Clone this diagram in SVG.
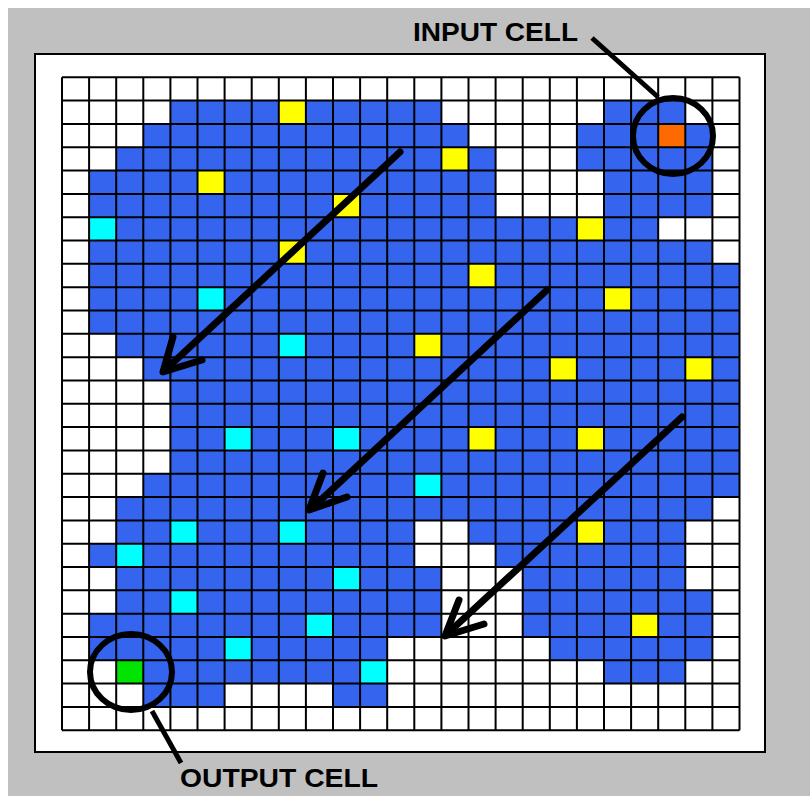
<svg xmlns="http://www.w3.org/2000/svg" width="810" height="796" viewBox="0 0 810 796">
  <defs>
    <style>
      .b { fill: #3565EE; }
      .y { fill: #FFFF00; }
      .c { fill: #00FFFF; }
      .o { fill: #FF6A00; }
      .g { fill: #00E400; }
      .grid { fill: none; stroke: #000; stroke-width: 2; vector-effect: non-scaling-stroke; }
      .arrow { fill: none; stroke: #000; stroke-width: 7; stroke-linecap: round; stroke-linejoin: round; }
      .ring { fill: none; stroke: #000; stroke-width: 6; }
      .lead { fill: none; stroke: #000; stroke-width: 5; stroke-linecap: butt; }
      .lbl { font-family: "Liberation Sans", Arial, sans-serif; font-weight: bold; font-size: 26px; fill: #000; }
    </style>
  </defs>

  <rect x="0" y="0" width="810" height="796" fill="#ffffff"/>
  <rect x="8" y="8" width="802" height="788" fill="#C0C0C0"/>
  <rect x="35" y="54" width="730" height="698" fill="#ffffff" stroke="#000" stroke-width="2"/>

  <g id="grid" transform="translate(62,77.3) scale(27.1,23.32)">
    <rect x="0" y="0" width="25" height="28" fill="#ffffff"/>
    <g id="blue-region">
      <rect class="b" x="4" y="1" width="10" height="1"/><rect class="b" x="20" y="1" width="3" height="1"/>
      <rect class="b" x="3" y="2" width="12" height="1"/><rect class="b" x="19" y="2" width="5" height="1"/>
      <rect class="b" x="2" y="3" width="14" height="1"/><rect class="b" x="19" y="3" width="5" height="1"/>
      <rect class="b" x="1" y="4" width="15" height="1"/><rect class="b" x="20" y="4" width="4" height="1"/>
      <rect class="b" x="1" y="5" width="15" height="1"/><rect class="b" x="20" y="5" width="4" height="1"/>
      <rect class="b" x="1" y="6" width="21" height="1"/>
      <rect class="b" x="1" y="7" width="23" height="1"/>
      <rect class="b" x="1" y="8" width="24" height="1"/>
      <rect class="b" x="1" y="9" width="24" height="1"/>
      <rect class="b" x="1" y="10" width="24" height="1"/>
      <rect class="b" x="2" y="11" width="23" height="1"/>
      <rect class="b" x="3" y="12" width="22" height="1"/>
      <rect class="b" x="4" y="13" width="21" height="1"/>
      <rect class="b" x="4" y="14" width="21" height="1"/>
      <rect class="b" x="4" y="15" width="21" height="1"/>
      <rect class="b" x="4" y="16" width="21" height="1"/>
      <rect class="b" x="3" y="17" width="22" height="1"/>
      <rect class="b" x="2" y="18" width="22" height="1"/>
      <rect class="b" x="2" y="19" width="11" height="1"/><rect class="b" x="15" y="19" width="8" height="1"/>
      <rect class="b" x="1" y="20" width="12" height="1"/><rect class="b" x="16" y="20" width="7" height="1"/>
      <rect class="b" x="2" y="21" width="12" height="1"/><rect class="b" x="17" y="21" width="6" height="1"/>
      <rect class="b" x="2" y="22" width="12" height="1"/><rect class="b" x="17" y="22" width="7" height="1"/>
      <rect class="b" x="1" y="23" width="13" height="1"/><rect class="b" x="17" y="23" width="7" height="1"/>
      <rect class="b" x="1" y="24" width="11" height="1"/><rect class="b" x="18" y="24" width="6" height="1"/>
      <rect class="b" x="2" y="25" width="9" height="1"/><rect class="b" x="20" y="25" width="3" height="1"/>
      <rect class="b" x="3" y="26" width="3" height="1"/><rect class="b" x="10" y="26" width="2" height="1"/>
    </g>
    <g id="yellow-cells">
      <rect class="y" x="8" y="1" width="1" height="1"/>
      <rect class="y" x="14" y="3" width="1" height="1"/>
      <rect class="y" x="5" y="4" width="1" height="1"/>
      <rect class="y" x="10" y="5" width="1" height="1"/>
      <rect class="y" x="19" y="6" width="1" height="1"/>
      <rect class="y" x="8" y="7" width="1" height="1"/>
      <rect class="y" x="15" y="8" width="1" height="1"/>
      <rect class="y" x="20" y="9" width="1" height="1"/>
      <rect class="y" x="13" y="11" width="1" height="1"/>
      <rect class="y" x="18" y="12" width="1" height="1"/>
      <rect class="y" x="23" y="12" width="1" height="1"/>
      <rect class="y" x="15" y="15" width="1" height="1"/>
      <rect class="y" x="19" y="15" width="1" height="1"/>
      <rect class="y" x="19" y="19" width="1" height="1"/>
      <rect class="y" x="21" y="23" width="1" height="1"/>
    </g>
    <g id="cyan-cells">
      <rect class="c" x="1" y="6" width="1" height="1"/>
      <rect class="c" x="5" y="9" width="1" height="1"/>
      <rect class="c" x="8" y="11" width="1" height="1"/>
      <rect class="c" x="6" y="15" width="1" height="1"/>
      <rect class="c" x="10" y="15" width="1" height="1"/>
      <rect class="c" x="13" y="17" width="1" height="1"/>
      <rect class="c" x="4" y="19" width="1" height="1"/>
      <rect class="c" x="8" y="19" width="1" height="1"/>
      <rect class="c" x="2" y="20" width="1" height="1"/>
      <rect class="c" x="10" y="21" width="1" height="1"/>
      <rect class="c" x="4" y="22" width="1" height="1"/>
      <rect class="c" x="9" y="23" width="1" height="1"/>
      <rect class="c" x="6" y="24" width="1" height="1"/>
      <rect class="c" x="11" y="25" width="1" height="1"/>
    </g>
    <rect id="input-cell" class="o" x="22" y="2" width="1" height="1"/>
    <rect id="output-cell" class="g" x="2" y="25" width="1" height="1"/>
    <path class="grid" d="M0 0V28M1 0V28M2 0V28M3 0V28M4 0V28M5 0V28M6 0V28M7 0V28M8 0V28M9 0V28M10 0V28M11 0V28M12 0V28M13 0V28M14 0V28M15 0V28M16 0V28M17 0V28M18 0V28M19 0V28M20 0V28M21 0V28M22 0V28M23 0V28M24 0V28M25 0V28
      M0 0H25M0 1H25M0 2H25M0 3H25M0 4H25M0 5H25M0 6H25M0 7H25M0 8H25M0 9H25M0 10H25M0 11H25M0 12H25M0 13H25M0 14H25M0 15H25M0 16H25M0 17H25M0 18H25M0 19H25M0 20H25M0 21H25M0 22H25M0 23H25M0 24H25M0 25H25M0 26H25M0 27H25M0 28H25"/>
  </g>

  <g id="connectors">
    <line class="arrow" x1="400" y1="152" x2="164" y2="371"/>
    <polyline class="arrow" points="173,337 163,372 202,360"/>
    <line class="arrow" x1="547" y1="290" x2="311" y2="509"/>
    <polyline class="arrow" points="323,473 309,510 347,497"/>
    <line class="arrow" x1="682" y1="417" x2="447" y2="634"/>
    <polyline class="arrow" points="459,600 445,636 484,624"/>
  </g>

  <g id="input-callout">
    <ellipse class="ring" cx="673" cy="136" rx="40" ry="38"/>
    <line class="lead" x1="592" y1="38" x2="658" y2="97"/>
    <text class="lbl" x="413" y="41" textLength="165" lengthAdjust="spacingAndGlyphs">INPUT CELL</text>
  </g>

  <g id="output-callout">
    <ellipse class="ring" cx="131" cy="672" rx="41" ry="38"/>
    <line class="lead" x1="152" y1="711" x2="181" y2="763"/>
    <text class="lbl" x="180" y="787" textLength="198" lengthAdjust="spacingAndGlyphs">OUTPUT CELL</text>
  </g>
</svg>
